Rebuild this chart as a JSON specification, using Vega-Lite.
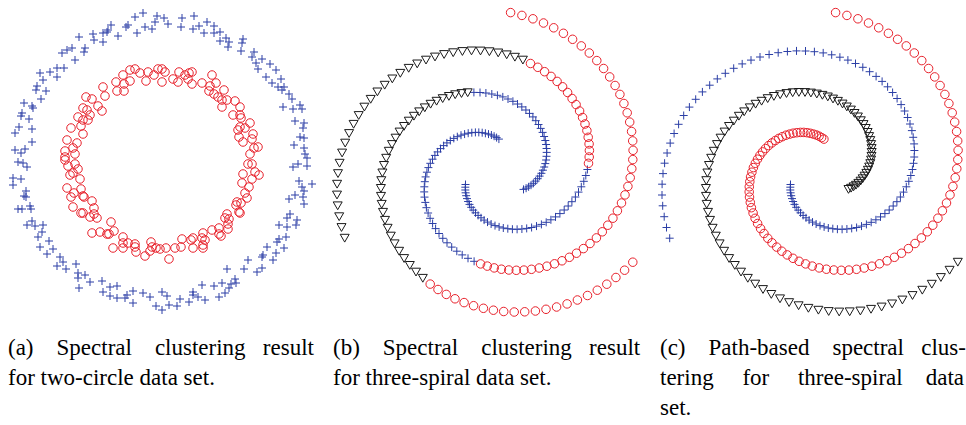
{
"$schema": "https://vega.github.io/schema/vega-lite/v6.json",
"padding": 0,
"spacing": 5,
"background": "white",
"config": {"view": {"stroke": null}},
"datasets": {
"ci": [
{"x":143,"y":13,"g":"b"},{"x":135,"y":17,"g":"b"},{"x":126,"y":27,"g":"b"},{"x":128,"y":25,"g":"b"},{"x":137,"y":33,"g":"b"},{"x":145,"y":27,"g":"b"},{"x":152,"y":29,"g":"b"},{"x":155,"y":22,"g":"b"},{"x":157,"y":16,"g":"b"},{"x":118,"y":36,"g":"b"},{"x":111,"y":25,"g":"b"},{"x":107,"y":32,"g":"b"},{"x":103,"y":33,"g":"b"},{"x":108,"y":30,"g":"b"},{"x":103,"y":42,"g":"b"},{"x":94,"y":40,"g":"b"},{"x":93,"y":34,"g":"b"},{"x":79,"y":37,"g":"b"},{"x":85,"y":48,"g":"b"},{"x":84,"y":52,"g":"b"},{"x":72,"y":48,"g":"b"},{"x":67,"y":50,"g":"b"},{"x":62,"y":53,"g":"b"},{"x":75,"y":60,"g":"b"},{"x":64,"y":68,"g":"b"},{"x":57,"y":68,"g":"b"},{"x":57,"y":77,"g":"b"},{"x":50,"y":72,"g":"b"},{"x":40,"y":73,"g":"b"},{"x":43,"y":80,"g":"b"},{"x":37,"y":86,"g":"b"},{"x":36,"y":90,"g":"b"},{"x":46,"y":91,"g":"b"},{"x":41,"y":99,"g":"b"},{"x":24,"y":103,"g":"b"},{"x":32,"y":106,"g":"b"},{"x":33,"y":108,"g":"b"},{"x":22,"y":113,"g":"b"},{"x":21,"y":116,"g":"b"},{"x":29,"y":119,"g":"b"},{"x":19,"y":127,"g":"b"},{"x":32,"y":129,"g":"b"},{"x":15,"y":133,"g":"b"},{"x":32,"y":142,"g":"b"},{"x":15,"y":150,"g":"b"},{"x":21,"y":153,"g":"b"},{"x":25,"y":149,"g":"b"},
{"x":164,"y":18,"g":"b"},{"x":168,"y":24,"g":"b"},{"x":182,"y":18,"g":"b"},{"x":181,"y":27,"g":"b"},{"x":194,"y":16,"g":"b"},{"x":193,"y":29,"g":"b"},{"x":199,"y":26,"g":"b"},{"x":204,"y":33,"g":"b"},{"x":207,"y":22,"g":"b"},{"x":214,"y":26,"g":"b"},{"x":214,"y":33,"g":"b"},{"x":220,"y":32,"g":"b"},{"x":220,"y":41,"g":"b"},{"x":226,"y":38,"g":"b"},{"x":229,"y":42,"g":"b"},{"x":228,"y":47,"g":"b"},{"x":243,"y":39,"g":"b"},{"x":242,"y":43,"g":"b"},{"x":241,"y":51,"g":"b"},{"x":254,"y":52,"g":"b"},{"x":252,"y":57,"g":"b"},{"x":262,"y":59,"g":"b"},{"x":256,"y":63,"g":"b"},{"x":258,"y":69,"g":"b"},{"x":270,"y":64,"g":"b"},{"x":276,"y":70,"g":"b"},{"x":266,"y":77,"g":"b"},{"x":272,"y":83,"g":"b"},{"x":281,"y":79,"g":"b"},{"x":278,"y":87,"g":"b"},{"x":282,"y":90,"g":"b"},{"x":284,"y":87,"g":"b"},{"x":289,"y":94,"g":"b"},{"x":292,"y":99,"g":"b"},{"x":283,"y":107,"g":"b"},{"x":293,"y":109,"g":"b"},{"x":300,"y":105,"g":"b"},{"x":302,"y":109,"g":"b"},{"x":295,"y":121,"g":"b"},{"x":304,"y":123,"g":"b"},{"x":303,"y":128,"g":"b"},{"x":300,"y":137,"g":"b"},{"x":304,"y":138,"g":"b"},{"x":294,"y":145,"g":"b"},{"x":304,"y":148,"g":"b"},{"x":305,"y":154,"g":"b"},{"x":307,"y":158,"g":"b"},
{"x":18,"y":162,"g":"b"},{"x":23,"y":163,"g":"b"},{"x":27,"y":167,"g":"b"},{"x":13,"y":178,"g":"b"},{"x":21,"y":179,"g":"b"},{"x":13,"y":185,"g":"b"},{"x":26,"y":191,"g":"b"},{"x":24,"y":196,"g":"b"},{"x":26,"y":197,"g":"b"},{"x":18,"y":209,"g":"b"},{"x":22,"y":209,"g":"b"},{"x":30,"y":206,"g":"b"},{"x":31,"y":209,"g":"b"},{"x":32,"y":221,"g":"b"},{"x":27,"y":225,"g":"b"},{"x":35,"y":226,"g":"b"},{"x":43,"y":225,"g":"b"},{"x":42,"y":232,"g":"b"},{"x":38,"y":237,"g":"b"},{"x":49,"y":241,"g":"b"},{"x":40,"y":247,"g":"b"},{"x":53,"y":249,"g":"b"},{"x":47,"y":254,"g":"b"},{"x":60,"y":257,"g":"b"},{"x":63,"y":262,"g":"b"},{"x":57,"y":266,"g":"b"},{"x":66,"y":269,"g":"b"},{"x":76,"y":264,"g":"b"},{"x":78,"y":273,"g":"b"},{"x":85,"y":275,"g":"b"},{"x":78,"y":278,"g":"b"},{"x":90,"y":282,"g":"b"},{"x":102,"y":281,"g":"b"},{"x":79,"y":288,"g":"b"},{"x":110,"y":287,"g":"b"},{"x":117,"y":286,"g":"b"},{"x":103,"y":292,"g":"b"},{"x":110,"y":296,"g":"b"},{"x":117,"y":298,"g":"b"},{"x":133,"y":291,"g":"b"},{"x":127,"y":295,"g":"b"},{"x":143,"y":293,"g":"b"},{"x":125,"y":298,"g":"b"},{"x":150,"y":297,"g":"b"},{"x":133,"y":303,"g":"b"},{"x":156,"y":306,"g":"b"},
{"x":293,"y":167,"g":"b"},{"x":298,"y":164,"g":"b"},{"x":307,"y":166,"g":"b"},{"x":299,"y":181,"g":"b"},{"x":312,"y":184,"g":"b"},{"x":302,"y":187,"g":"b"},{"x":304,"y":191,"g":"b"},{"x":295,"y":195,"g":"b"},{"x":289,"y":199,"g":"b"},{"x":303,"y":197,"g":"b"},{"x":304,"y":204,"g":"b"},{"x":290,"y":214,"g":"b"},{"x":287,"y":218,"g":"b"},{"x":297,"y":220,"g":"b"},{"x":279,"y":225,"g":"b"},{"x":287,"y":227,"g":"b"},{"x":296,"y":225,"g":"b"},{"x":286,"y":237,"g":"b"},{"x":279,"y":239,"g":"b"},{"x":277,"y":242,"g":"b"},{"x":284,"y":248,"g":"b"},{"x":267,"y":247,"g":"b"},{"x":276,"y":253,"g":"b"},{"x":262,"y":257,"g":"b"},{"x":263,"y":255,"g":"b"},{"x":273,"y":260,"g":"b"},{"x":248,"y":260,"g":"b"},{"x":262,"y":268,"g":"b"},{"x":257,"y":272,"g":"b"},{"x":244,"y":269,"g":"b"},{"x":227,"y":269,"g":"b"},{"x":235,"y":279,"g":"b"},{"x":236,"y":283,"g":"b"},{"x":231,"y":284,"g":"b"},{"x":222,"y":283,"g":"b"},{"x":214,"y":286,"g":"b"},{"x":202,"y":285,"g":"b"},{"x":229,"y":288,"g":"b"},{"x":225,"y":293,"g":"b"},{"x":219,"y":297,"g":"b"},{"x":193,"y":292,"g":"b"},{"x":193,"y":295,"g":"b"},{"x":198,"y":297,"g":"b"},{"x":205,"y":300,"g":"b"},{"x":189,"y":302,"g":"b"},{"x":180,"y":299,"g":"b"},{"x":177,"y":306,"g":"b"},{"x":169,"y":305,"g":"b"},{"x":167,"y":296,"g":"b"},{"x":162,"y":292,"g":"b"},{"x":162,"y":310,"g":"b"},
{"x":158,"y":69,"g":"r"},{"x":148,"y":72,"g":"r"},{"x":154,"y":75,"g":"r"},{"x":140,"y":73,"g":"r"},{"x":146,"y":81,"g":"r"},{"x":135,"y":69,"g":"r"},{"x":130,"y":70,"g":"r"},{"x":123,"y":75,"g":"r"},{"x":130,"y":81,"g":"r"},{"x":124,"y":84,"g":"r"},{"x":116,"y":82,"g":"r"},{"x":117,"y":91,"g":"r"},{"x":124,"y":91,"g":"r"},{"x":103,"y":87,"g":"r"},{"x":105,"y":96,"g":"r"},{"x":92,"y":99,"g":"r"},{"x":86,"y":97,"g":"r"},{"x":98,"y":106,"g":"r"},{"x":83,"y":108,"g":"r"},{"x":102,"y":111,"g":"r"},{"x":87,"y":110,"g":"r"},{"x":90,"y":115,"g":"r"},{"x":78,"y":117,"g":"r"},{"x":83,"y":120,"g":"r"},{"x":88,"y":120,"g":"r"},{"x":81,"y":126,"g":"r"},{"x":71,"y":128,"g":"r"},{"x":83,"y":134,"g":"r"},{"x":67,"y":140,"g":"r"},{"x":77,"y":143,"g":"r"},{"x":73,"y":148,"g":"r"},{"x":65,"y":151,"g":"r"},{"x":75,"y":154,"g":"r"},{"x":65,"y":157,"g":"r"},
{"x":162,"y":69,"g":"r"},{"x":165,"y":72,"g":"r"},{"x":162,"y":82,"g":"r"},{"x":173,"y":79,"g":"r"},{"x":179,"y":72,"g":"r"},{"x":178,"y":82,"g":"r"},{"x":185,"y":75,"g":"r"},{"x":189,"y":73,"g":"r"},{"x":192,"y":72,"g":"r"},{"x":188,"y":79,"g":"r"},{"x":192,"y":84,"g":"r"},{"x":202,"y":83,"g":"r"},{"x":212,"y":75,"g":"r"},{"x":216,"y":83,"g":"r"},{"x":210,"y":86,"g":"r"},{"x":209,"y":91,"g":"r"},{"x":214,"y":94,"g":"r"},{"x":218,"y":97,"g":"r"},{"x":224,"y":90,"g":"r"},{"x":222,"y":100,"g":"r"},{"x":227,"y":100,"g":"r"},{"x":222,"y":107,"g":"r"},{"x":235,"y":101,"g":"r"},{"x":240,"y":107,"g":"r"},{"x":233,"y":115,"g":"r"},{"x":240,"y":115,"g":"r"},{"x":241,"y":118,"g":"r"},{"x":250,"y":123,"g":"r"},{"x":240,"y":127,"g":"r"},{"x":245,"y":128,"g":"r"},{"x":238,"y":130,"g":"r"},{"x":253,"y":134,"g":"r"},{"x":239,"y":137,"g":"r"},{"x":252,"y":139,"g":"r"},{"x":243,"y":142,"g":"r"},{"x":258,"y":147,"g":"r"},{"x":254,"y":148,"g":"r"},{"x":250,"y":154,"g":"r"},
{"x":65,"y":160,"g":"r"},{"x":68,"y":166,"g":"r"},{"x":75,"y":164,"g":"r"},{"x":78,"y":169,"g":"r"},{"x":73,"y":173,"g":"r"},{"x":70,"y":175,"g":"r"},{"x":80,"y":179,"g":"r"},{"x":67,"y":188,"g":"r"},{"x":81,"y":189,"g":"r"},{"x":74,"y":193,"g":"r"},{"x":71,"y":197,"g":"r"},{"x":83,"y":196,"g":"r"},{"x":84,"y":197,"g":"r"},{"x":92,"y":201,"g":"r"},{"x":73,"y":207,"g":"r"},{"x":94,"y":208,"g":"r"},{"x":81,"y":213,"g":"r"},{"x":83,"y":213,"g":"r"},{"x":94,"y":214,"g":"r"},{"x":90,"y":217,"g":"r"},{"x":97,"y":218,"g":"r"},{"x":111,"y":222,"g":"r"},{"x":114,"y":231,"g":"r"},{"x":92,"y":233,"g":"r"},{"x":100,"y":232,"g":"r"},{"x":107,"y":234,"g":"r"},{"x":109,"y":234,"g":"r"},{"x":123,"y":237,"g":"r"},{"x":123,"y":243,"g":"r"},{"x":128,"y":243,"g":"r"},{"x":135,"y":244,"g":"r"},{"x":135,"y":247,"g":"r"},{"x":113,"y":248,"g":"r"},{"x":123,"y":248,"g":"r"},{"x":136,"y":252,"g":"r"},{"x":145,"y":256,"g":"r"},{"x":151,"y":242,"g":"r"},{"x":152,"y":247,"g":"r"},{"x":156,"y":248,"g":"r"},{"x":150,"y":251,"g":"r"},
{"x":248,"y":164,"g":"r"},{"x":252,"y":164,"g":"r"},{"x":255,"y":172,"g":"r"},{"x":259,"y":175,"g":"r"},{"x":243,"y":174,"g":"r"},{"x":252,"y":179,"g":"r"},{"x":242,"y":183,"g":"r"},{"x":249,"y":187,"g":"r"},{"x":245,"y":193,"g":"r"},{"x":247,"y":198,"g":"r"},{"x":237,"y":202,"g":"r"},{"x":241,"y":203,"g":"r"},{"x":236,"y":205,"g":"r"},{"x":239,"y":212,"g":"r"},{"x":240,"y":213,"g":"r"},{"x":227,"y":214,"g":"r"},{"x":225,"y":218,"g":"r"},{"x":229,"y":219,"g":"r"},{"x":228,"y":224,"g":"r"},{"x":228,"y":229,"g":"r"},{"x":219,"y":228,"g":"r"},{"x":219,"y":234,"g":"r"},{"x":221,"y":236,"g":"r"},{"x":212,"y":230,"g":"r"},{"x":203,"y":233,"g":"r"},{"x":202,"y":238,"g":"r"},{"x":205,"y":240,"g":"r"},{"x":203,"y":245,"g":"r"},{"x":203,"y":248,"g":"r"},{"x":193,"y":238,"g":"r"},{"x":191,"y":240,"g":"r"},{"x":193,"y":248,"g":"r"},{"x":182,"y":239,"g":"r"},{"x":181,"y":247,"g":"r"},{"x":175,"y":248,"g":"r"},{"x":166,"y":248,"g":"r"},{"x":160,"y":249,"g":"r"},{"x":169,"y":259,"g":"r"}
],
"sp": [
{"x":498.9,"y":139.1,"b":"b","c":"r"},{"x":496.6,"y":137.6,"b":"b","c":"r"},{"x":494.1,"y":136.2,"b":"b","c":"r"},{"x":491.4,"y":135.0,"b":"b","c":"r"},{"x":488.5,"y":134.1,"b":"b","c":"r"},{"x":485.4,"y":133.3,"b":"b","c":"r"},{"x":482.2,"y":132.7,"b":"b","c":"r"},{"x":478.8,"y":132.4,"b":"b","c":"r"},{"x":475.4,"y":132.4,"b":"b","c":"r"},{"x":471.8,"y":132.7,"b":"b","c":"r"},{"x":468.2,"y":133.2,"b":"b","c":"r"},{"x":464.6,"y":134.1,"b":"b","c":"r"},{"x":461.0,"y":135.2,"b":"b","c":"r"},{"x":457.3,"y":136.7,"b":"b","c":"r"},{"x":453.8,"y":138.4,"b":"b","c":"r"},{"x":450.3,"y":140.5,"b":"b","c":"r"},{"x":446.9,"y":142.9,"b":"b","c":"r"},{"x":443.6,"y":145.6,"b":"b","c":"r"},{"x":440.5,"y":148.6,"b":"b","c":"r"},{"x":437.6,"y":151.9,"b":"b","c":"r"},{"x":434.9,"y":155.4,"b":"b","c":"r"},{"x":432.5,"y":159.2,"b":"b","c":"r"},{"x":430.3,"y":163.3,"b":"b","c":"r"},{"x":428.4,"y":167.6,"b":"b","c":"r"},{"x":426.9,"y":172.2,"b":"b","c":"r"},{"x":425.6,"y":176.9,"b":"b","c":"r"},{"x":424.8,"y":181.7,"b":"b","c":"r"},{"x":424.3,"y":186.8,"b":"b","c":"r"},{"x":424.2,"y":191.9,"b":"b","c":"r"},{"x":424.5,"y":197.1,"b":"b","c":"r"},{"x":425.3,"y":202.4,"b":"b","c":"r"},{"x":426.4,"y":207.7,"b":"b","c":"r"},{"x":428.1,"y":213.0,"b":"b","c":"r"},{"x":430.1,"y":218.3,"b":"b","c":"r"},{"x":432.6,"y":223.5,"b":"b","c":"r"},{"x":435.6,"y":228.6,"b":"b","c":"r"},{"x":439.0,"y":233.5,"b":"b","c":"r"},{"x":442.8,"y":238.3,"b":"b","c":"r"},{"x":447.0,"y":242.8,"b":"b","c":"r"},{"x":451.7,"y":247.1,"b":"b","c":"r"},{"x":456.8,"y":251.2,"b":"b","c":"r"},{"x":462.2,"y":254.9,"b":"b","c":"r"},{"x":468.0,"y":258.3,"b":"b","c":"r"},{"x":474.1,"y":261.3,"b":"b","c":"r"},
{"x":480.6,"y":263.9,"b":"r","c":"r"},{"x":487.3,"y":266.1,"b":"r","c":"r"},{"x":494.2,"y":267.9,"b":"r","c":"r"},{"x":501.4,"y":269.2,"b":"r","c":"r"},{"x":508.8,"y":270.0,"b":"r","c":"r"},{"x":516.3,"y":270.3,"b":"r","c":"r"},{"x":523.9,"y":270.1,"b":"r","c":"r"},{"x":531.5,"y":269.3,"b":"r","c":"r"},{"x":539.2,"y":268.0,"b":"r","c":"r"},{"x":546.9,"y":266.2,"b":"r","c":"r"},{"x":554.5,"y":263.8,"b":"r","c":"r"},{"x":562.0,"y":260.8,"b":"r","c":"r"},{"x":569.4,"y":257.3,"b":"r","c":"r"},{"x":576.5,"y":253.2,"b":"r","c":"r"},{"x":583.4,"y":248.6,"b":"r","c":"r"},{"x":590.0,"y":243.5,"b":"r","c":"r"},{"x":596.4,"y":237.9,"b":"r","c":"r"},{"x":602.3,"y":231.8,"b":"r","c":"r"},{"x":607.8,"y":225.2,"b":"r","c":"r"},{"x":612.9,"y":218.2,"b":"r","c":"r"},{"x":617.4,"y":210.8,"b":"r","c":"r"},{"x":621.5,"y":203.0,"b":"r","c":"r"},{"x":625.0,"y":194.9,"b":"r","c":"r"},{"x":627.9,"y":186.4,"b":"r","c":"r"},{"x":630.2,"y":177.7,"b":"r","c":"r"},{"x":631.8,"y":168.7,"b":"r","c":"r"},{"x":632.8,"y":159.6,"b":"r","c":"r"},{"x":633.1,"y":150.3,"b":"r","c":"r"},{"x":632.7,"y":140.9,"b":"r","c":"r"},{"x":631.6,"y":131.5,"b":"r","c":"r"},{"x":629.7,"y":122.1,"b":"r","c":"r"},{"x":627.2,"y":112.8,"b":"r","c":"r"},{"x":623.9,"y":103.5,"b":"r","c":"r"},{"x":619.9,"y":94.4,"b":"r","c":"r"},{"x":615.1,"y":85.5,"b":"r","c":"r"},{"x":609.7,"y":76.9,"b":"r","c":"r"},{"x":603.6,"y":68.5,"b":"r","c":"r"},{"x":596.8,"y":60.6,"b":"r","c":"r"},{"x":589.3,"y":53.0,"b":"r","c":"r"},{"x":581.3,"y":45.9,"b":"r","c":"r"},{"x":572.6,"y":39.3,"b":"r","c":"r"},{"x":563.4,"y":33.3,"b":"r","c":"r"},{"x":553.7,"y":27.8,"b":"r","c":"r"},{"x":543.5,"y":23.0,"b":"r","c":"r"},{"x":532.9,"y":18.8,"b":"r","c":"r"},{"x":521.9,"y":15.4,"b":"r","c":"r"},{"x":510.6,"y":12.6,"b":"r","c":"r"},
{"x":465.5,"y":184.5,"b":"b","c":"b"},{"x":465.3,"y":187.2,"b":"b","c":"b"},{"x":465.3,"y":190.0,"b":"b","c":"b"},{"x":465.6,"y":192.8,"b":"b","c":"b"},{"x":466.2,"y":195.7,"b":"b","c":"b"},{"x":467.0,"y":198.6,"b":"b","c":"b"},{"x":468.1,"y":201.5,"b":"b","c":"b"},{"x":469.5,"y":204.4,"b":"b","c":"b"},{"x":471.2,"y":207.3,"b":"b","c":"b"},{"x":473.2,"y":210.1,"b":"b","c":"b"},{"x":475.5,"y":212.8,"b":"b","c":"b"},{"x":478.1,"y":215.4,"b":"b","c":"b"},{"x":481.0,"y":217.8,"b":"b","c":"b"},{"x":484.1,"y":220.1,"b":"b","c":"b"},{"x":487.5,"y":222.1,"b":"b","c":"b"},{"x":491.1,"y":224.0,"b":"b","c":"b"},{"x":495.0,"y":225.6,"b":"b","c":"b"},{"x":499.1,"y":226.9,"b":"b","c":"b"},{"x":503.3,"y":228.0,"b":"b","c":"b"},{"x":507.8,"y":228.7,"b":"b","c":"b"},{"x":512.4,"y":229.2,"b":"b","c":"b"},{"x":517.1,"y":229.3,"b":"b","c":"b"},{"x":521.9,"y":229.0,"b":"b","c":"b"},{"x":526.7,"y":228.4,"b":"b","c":"b"},{"x":531.6,"y":227.5,"b":"b","c":"b"},{"x":536.5,"y":226.1,"b":"b","c":"b"},{"x":541.4,"y":224.4,"b":"b","c":"b"},{"x":546.2,"y":222.3,"b":"b","c":"b"},{"x":550.9,"y":219.8,"b":"b","c":"b"},{"x":555.5,"y":216.9,"b":"b","c":"b"},{"x":559.9,"y":213.6,"b":"b","c":"b"},{"x":564.2,"y":210.0,"b":"b","c":"b"},{"x":568.2,"y":206.0,"b":"b","c":"b"},{"x":571.9,"y":201.7,"b":"b","c":"b"},{"x":575.4,"y":197.0,"b":"b","c":"b"},{"x":578.5,"y":192.1,"b":"b","c":"b"},{"x":581.3,"y":186.8,"b":"b","c":"b"},{"x":583.8,"y":181.3,"b":"b","c":"b"},{"x":585.8,"y":175.5,"b":"b","c":"b"},{"x":587.4,"y":169.5,"b":"b","c":"b"},
{"x":588.5,"y":163.3,"b":"r","c":"b"},{"x":589.2,"y":157.0,"b":"r","c":"b"},{"x":589.4,"y":150.5,"b":"r","c":"b"},{"x":589.1,"y":143.9,"b":"r","c":"b"},{"x":588.2,"y":137.3,"b":"r","c":"b"},{"x":586.9,"y":130.6,"b":"r","c":"b"},{"x":585.0,"y":124.0,"b":"r","c":"b"},{"x":582.6,"y":117.5,"b":"r","c":"b"},{"x":579.6,"y":111.0,"b":"r","c":"b"},{"x":576.1,"y":104.6,"b":"r","c":"b"},{"x":572.1,"y":98.5,"b":"r","c":"b"},{"x":567.6,"y":92.5,"b":"r","c":"b"},{"x":562.6,"y":86.8,"b":"r","c":"b"},{"x":557.1,"y":81.4,"b":"r","c":"b"},{"x":551.1,"y":76.4,"b":"r","c":"b"},{"x":544.6,"y":71.7,"b":"r","c":"b"},{"x":537.8,"y":67.3,"b":"r","c":"b"},{"x":530.5,"y":63.5,"b":"r","c":"b"},
{"x":522.9,"y":60.1,"b":"k","c":"b"},{"x":514.9,"y":57.2,"b":"k","c":"b"},{"x":506.7,"y":54.8,"b":"k","c":"b"},{"x":498.2,"y":52.9,"b":"k","c":"b"},{"x":489.4,"y":51.7,"b":"k","c":"b"},{"x":480.5,"y":51.0,"b":"k","c":"b"},{"x":471.5,"y":50.9,"b":"k","c":"b"},{"x":462.4,"y":51.5,"b":"k","c":"b"},{"x":453.2,"y":52.7,"b":"k","c":"b"},{"x":444.1,"y":54.5,"b":"k","c":"b"},{"x":435.0,"y":57.0,"b":"k","c":"b"},{"x":426.0,"y":60.1,"b":"k","c":"b"},{"x":417.2,"y":63.9,"b":"k","c":"b"},{"x":408.7,"y":68.3,"b":"k","c":"b"},{"x":400.3,"y":73.3,"b":"k","c":"b"},{"x":392.3,"y":78.9,"b":"k","c":"b"},{"x":384.7,"y":85.2,"b":"k","c":"b"},{"x":377.4,"y":91.9,"b":"k","c":"b"},{"x":370.7,"y":99.3,"b":"k","c":"b"},{"x":364.4,"y":107.1,"b":"k","c":"b"},{"x":358.7,"y":115.5,"b":"k","c":"b"},{"x":353.6,"y":124.3,"b":"k","c":"b"},{"x":349.1,"y":133.5,"b":"k","c":"b"},{"x":345.2,"y":143.1,"b":"k","c":"b"},{"x":342.1,"y":153.0,"b":"k","c":"b"},{"x":339.6,"y":163.2,"b":"k","c":"b"},{"x":338.0,"y":173.6,"b":"k","c":"b"},{"x":337.1,"y":184.2,"b":"k","c":"b"},{"x":337.0,"y":195.0,"b":"k","c":"b"},{"x":337.7,"y":205.8,"b":"k","c":"b"},{"x":339.2,"y":216.7,"b":"k","c":"b"},{"x":341.5,"y":227.5,"b":"k","c":"b"},{"x":344.7,"y":238.2,"b":"k","c":"b"},
{"x":523.5,"y":189.4,"b":"b","c":"k"},{"x":526.1,"y":188.2,"b":"b","c":"k"},{"x":528.6,"y":186.8,"b":"b","c":"k"},{"x":531.0,"y":185.2,"b":"b","c":"k"},{"x":533.4,"y":183.3,"b":"b","c":"k"},{"x":535.6,"y":181.1,"b":"b","c":"k"},{"x":537.7,"y":178.7,"b":"b","c":"k"},{"x":539.6,"y":176.1,"b":"b","c":"k"},{"x":541.4,"y":173.3,"b":"b","c":"k"},{"x":542.9,"y":170.2,"b":"b","c":"k"},{"x":544.2,"y":167.0,"b":"b","c":"k"},{"x":545.3,"y":163.6,"b":"b","c":"k"},{"x":546.1,"y":160.0,"b":"b","c":"k"},{"x":546.5,"y":156.3,"b":"b","c":"k"},{"x":546.7,"y":152.4,"b":"b","c":"k"},{"x":546.6,"y":148.5,"b":"b","c":"k"},{"x":546.1,"y":144.5,"b":"b","c":"k"},{"x":545.3,"y":140.5,"b":"b","c":"k"},{"x":544.1,"y":136.5,"b":"b","c":"k"},{"x":542.6,"y":132.4,"b":"b","c":"k"},{"x":540.7,"y":128.4,"b":"b","c":"k"},{"x":538.5,"y":124.5,"b":"b","c":"k"},{"x":535.8,"y":120.7,"b":"b","c":"k"},{"x":532.9,"y":116.9,"b":"b","c":"k"},{"x":529.5,"y":113.4,"b":"b","c":"k"},{"x":525.9,"y":110.0,"b":"b","c":"k"},{"x":521.8,"y":106.9,"b":"b","c":"k"},{"x":517.5,"y":104.0,"b":"b","c":"k"},{"x":512.9,"y":101.3,"b":"b","c":"k"},{"x":508.0,"y":99.0,"b":"b","c":"k"},{"x":502.8,"y":96.9,"b":"b","c":"k"},{"x":497.4,"y":95.3,"b":"b","c":"k"},{"x":491.8,"y":94.0,"b":"b","c":"k"},{"x":485.9,"y":93.0,"b":"b","c":"k"},{"x":480.0,"y":92.5,"b":"b","c":"k"},{"x":473.9,"y":92.4,"b":"b","c":"k"},
{"x":467.7,"y":92.7,"b":"k","c":"k"},{"x":461.5,"y":93.5,"b":"k","c":"k"},{"x":455.2,"y":94.7,"b":"k","c":"k"},{"x":448.9,"y":96.4,"b":"k","c":"k"},{"x":442.7,"y":98.6,"b":"k","c":"k"},{"x":436.6,"y":101.2,"b":"k","c":"k"},{"x":430.6,"y":104.2,"b":"k","c":"k"},{"x":424.8,"y":107.8,"b":"k","c":"k"},{"x":419.2,"y":111.8,"b":"k","c":"k"},{"x":413.9,"y":116.2,"b":"k","c":"k"},{"x":408.8,"y":121.1,"b":"k","c":"k"},{"x":404.0,"y":126.4,"b":"k","c":"k"},{"x":399.6,"y":132.0,"b":"k","c":"k"},{"x":395.6,"y":138.1,"b":"k","c":"k"},{"x":392.0,"y":144.5,"b":"k","c":"k"},{"x":388.8,"y":151.2,"b":"k","c":"k"},{"x":386.2,"y":158.2,"b":"k","c":"k"},{"x":384.0,"y":165.4,"b":"k","c":"k"},{"x":382.4,"y":172.9,"b":"k","c":"k"},{"x":381.3,"y":180.6,"b":"k","c":"k"},{"x":380.9,"y":188.4,"b":"k","c":"k"},{"x":381.0,"y":196.3,"b":"k","c":"k"},{"x":381.7,"y":204.3,"b":"k","c":"k"},{"x":383.0,"y":212.3,"b":"k","c":"k"},{"x":385.0,"y":220.3,"b":"k","c":"k"},{"x":387.6,"y":228.2,"b":"k","c":"k"},{"x":390.8,"y":236.1,"b":"k","c":"k"},{"x":394.6,"y":243.8,"b":"k","c":"k"},{"x":399.1,"y":251.2,"b":"k","c":"k"},{"x":404.1,"y":258.5,"b":"k","c":"k"},{"x":409.8,"y":265.4,"b":"k","c":"k"},{"x":416.0,"y":272.1,"b":"k","c":"k"},{"x":422.8,"y":278.3,"b":"k","c":"k"},
{"x":430.2,"y":284.1,"b":"r","c":"k"},{"x":438.0,"y":289.5,"b":"r","c":"k"},{"x":446.3,"y":294.4,"b":"r","c":"k"},{"x":455.0,"y":298.8,"b":"r","c":"k"},{"x":464.1,"y":302.6,"b":"r","c":"k"},{"x":473.6,"y":305.7,"b":"r","c":"k"},{"x":483.4,"y":308.3,"b":"r","c":"k"},{"x":493.4,"y":310.2,"b":"r","c":"k"},{"x":503.7,"y":311.5,"b":"r","c":"k"},{"x":514.2,"y":312.0,"b":"r","c":"k"},{"x":524.7,"y":311.8,"b":"r","c":"k"},{"x":535.4,"y":311.0,"b":"r","c":"k"},{"x":546.0,"y":309.3,"b":"r","c":"k"},{"x":556.6,"y":307.0,"b":"r","c":"k"},{"x":567.1,"y":303.9,"b":"r","c":"k"},{"x":577.4,"y":300.0,"b":"r","c":"k"},{"x":587.5,"y":295.5,"b":"r","c":"k"},{"x":597.3,"y":290.2,"b":"r","c":"k"},{"x":606.8,"y":284.2,"b":"r","c":"k"},{"x":615.9,"y":277.5,"b":"r","c":"k"},{"x":624.6,"y":270.2,"b":"r","c":"k"},{"x":632.8,"y":262.2,"b":"r","c":"k"}
]
},
"hconcat": [
{
"width": 322, "height": 322,
"data": {"name": "ci"},
"title": {"text": ["(a) \u00a0\u00a0\u00a0Spectral \u00a0\u00a0\u00a0clustering \u00a0\u00a0result", "for two-circle data set."], "orient": "bottom", "anchor": "start", "frame": "group", "font": "Liberation Serif", "fontSize": 23, "fontWeight": "normal", "color": "#000", "lineHeight": 30, "offset": 15, "dx": 8},
"mark": {"type": "point", "filled": false, "strokeWidth": 1, "opacity": 1},
"encoding": {
"x": {"field": "x", "type": "quantitative", "scale": {"domain": [0, 322], "nice": false, "zero": false}, "axis": null},
"y": {"field": "y", "type": "quantitative", "scale": {"domain": [0, 322], "reverse": true, "nice": false, "zero": false}, "axis": null},
"shape": {"field": "g", "type": "nominal", "scale": {"domain": ["b", "r", "k"], "range": ["M-1,0H1M0,-1V1", "circle", "triangle-down"]}, "legend": null},
"color": {"field": "g", "type": "nominal", "scale": {"domain": ["b", "r", "k"], "range": ["#2c3fa6", "#e8212b", "#1a1a1a"]}, "legend": null},
"size": {"field": "g", "type": "nominal", "scale": {"domain": ["b", "r", "k"], "range": [64, 81, 72]}, "legend": null}
}
},
{
"width": 322, "height": 322,
"data": {"name": "sp"},
"title": {"text": ["(b) \u00a0\u00a0\u00a0Spectral \u00a0\u00a0\u00a0clustering \u00a0\u00a0result", "for three-spiral data set."], "orient": "bottom", "anchor": "start", "frame": "group", "font": "Liberation Serif", "fontSize": 23, "fontWeight": "normal", "color": "#000", "lineHeight": 30, "offset": 15, "dx": 6},
"mark": {"type": "point", "filled": false, "strokeWidth": 1, "opacity": 1},
"encoding": {
"x": {"field": "x", "type": "quantitative", "scale": {"domain": [327, 649], "nice": false, "zero": false}, "axis": null},
"y": {"field": "y", "type": "quantitative", "scale": {"domain": [0, 322], "reverse": true, "nice": false, "zero": false}, "axis": null},
"shape": {"field": "b", "type": "nominal", "scale": {"domain": ["b", "r", "k"], "range": ["M-1,0H1M0,-1V1", "circle", "triangle-down"]}, "legend": null},
"color": {"field": "b", "type": "nominal", "scale": {"domain": ["b", "r", "k"], "range": ["#2c3fa6", "#e8212b", "#1a1a1a"]}, "legend": null},
"size": {"field": "b", "type": "nominal", "scale": {"domain": ["b", "r", "k"], "range": [49, 56, 72]}, "legend": null}
}
},
{
"width": 312, "height": 322,
"data": {"name": "sp"},
"title": {"text": ["(c) \u00a0\u00a0\u00a0Path-based \u00a0\u00a0\u00a0spectral \u00a0\u00a0clus-", "tering \u00a0\u00a0\u00a0\u00a0for \u00a0\u00a0\u00a0\u00a0three-spiral \u00a0\u00a0\u00a0data", "set."], "orient": "bottom", "anchor": "start", "frame": "group", "font": "Liberation Serif", "fontSize": 23, "fontWeight": "normal", "color": "#000", "lineHeight": 30, "offset": 15, "dx": 6},
"mark": {"type": "point", "filled": false, "strokeWidth": 1, "opacity": 1},
"encoding": {
"x": {"field": "x", "type": "quantitative", "scale": {"domain": [329, 641], "nice": false, "zero": false}, "axis": null},
"y": {"field": "y", "type": "quantitative", "scale": {"domain": [0, 322], "reverse": true, "nice": false, "zero": false}, "axis": null},
"shape": {"field": "c", "type": "nominal", "scale": {"domain": ["b", "r", "k"], "range": ["M-1,0H1M0,-1V1", "circle", "triangle-down"]}, "legend": null},
"color": {"field": "c", "type": "nominal", "scale": {"domain": ["b", "r", "k"], "range": ["#2c3fa6", "#e8212b", "#1a1a1a"]}, "legend": null},
"size": {"field": "c", "type": "nominal", "scale": {"domain": ["b", "r", "k"], "range": [49, 56, 72]}, "legend": null}
}
}
]
}
